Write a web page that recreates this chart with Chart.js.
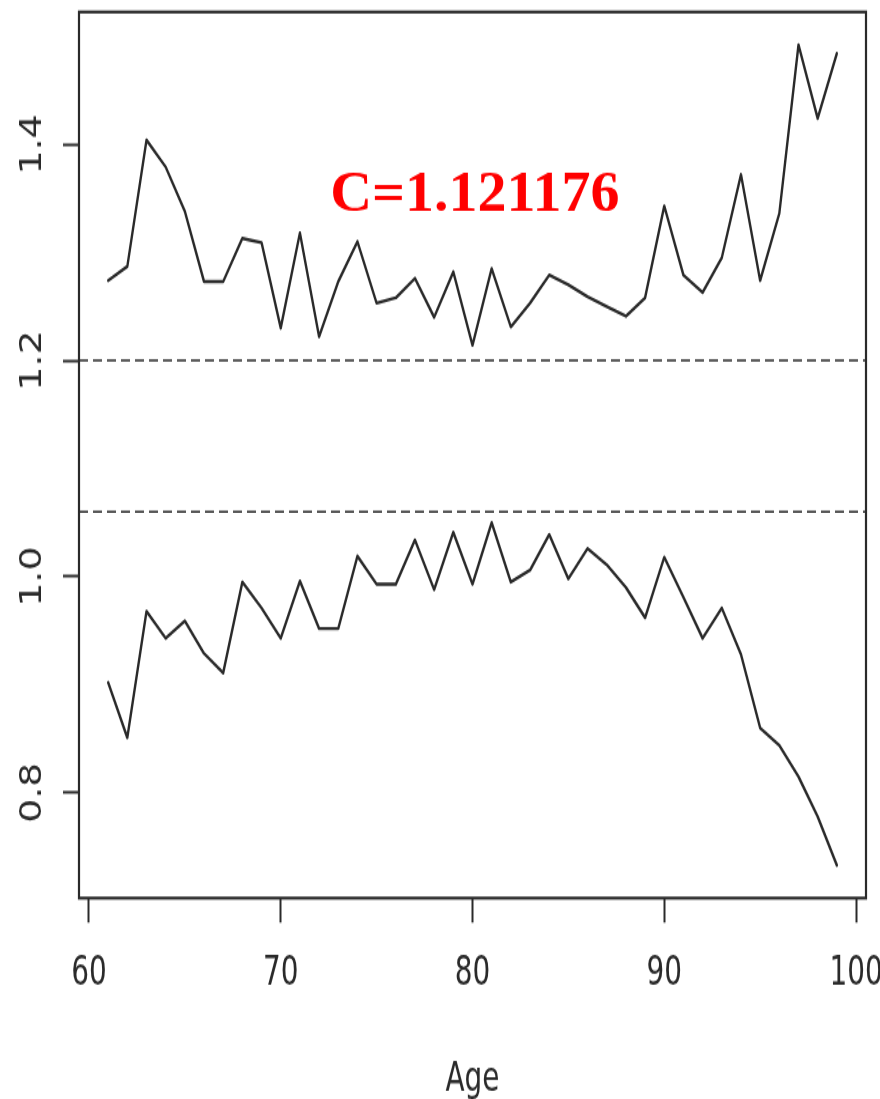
<!DOCTYPE html>
<html>
<head>
<meta charset="utf-8">
<script src="https://cdn.jsdelivr.net/npm/chart.js@4/dist/chart.umd.min.js"></script>
<style>
  html, body { margin: 0; padding: 0; background: #ffffff; }
  #page { width: 880px; height: 1099px; position: relative; }
  #wrap { position: absolute; left: 0; top: 0; width: 880px; height: 808px; transform: scaleY(1.3601); transform-origin: 0 0; }
  #plot { display: block; width: 880px; height: 808px; }
</style>
</head>
<body>
<div id="page"><div id="wrap"><canvas id="plot" width="880" height="808"></canvas></div></div>
<script>
// Ages on the horizontal axis
const ages = [61, 62, 63, 64, 65, 66, 67, 68, 69, 70,
              71, 72, 73, 74, 75, 76, 77, 78, 79, 80,
              81, 82, 83, 84, 85, 86, 87, 88, 89, 90,
              91, 92, 93, 94, 95, 96, 97, 98, 99];

// Upper curve
const upperValues = [1.274, 1.287, 1.404, 1.379, 1.338, 1.273, 1.273, 1.313, 1.309, 1.230,
                     1.318, 1.222, 1.273, 1.310, 1.253, 1.258, 1.276, 1.240, 1.282, 1.214,
                     1.285, 1.231, 1.253, 1.279, 1.270, 1.259, 1.250, 1.241, 1.258, 1.343,
                     1.279, 1.263, 1.295, 1.372, 1.274, 1.336, 1.492, 1.424, 1.484];

// Lower curve
const lowerValues = [0.902, 0.851, 0.968, 0.943, 0.959, 0.929, 0.911, 0.995, 0.971, 0.943,
                     0.996, 0.952, 0.952, 1.019, 0.993, 0.993, 1.034, 0.988, 1.041, 0.993,
                     1.050, 0.995, 1.006, 1.039, 0.998, 1.026, 1.011, 0.990, 0.962, 1.018,
                     0.981, 0.943, 0.971, 0.928, 0.860, 0.844, 0.815, 0.778, 0.733];

// Horizontal dashed reference levels
const refLevels = [1.2, 1.06];

// Axis ticks
const xTicks = [60, 70, 80, 90, 100];
const yTicks = [0.8, 1.0, 1.2, 1.4];

// Axis ranges
const xRange = [59.48, 100.52];
const yRange = [0.7026, 1.5224];

const annotationText = 'C=1.121176';

const STRETCH = 1.3601;
const INK = '#2a2a2a';
const LABEL_FONT = "'Liberation Sans Narrow', 'Arial Narrow', 'DejaVu Sans Condensed', 'Liberation Sans', sans-serif";

const curveStyle = {
  borderColor: INK,
  borderWidth: 2.4,
  pointRadius: 0,
  tension: 0,
  fill: false,
  borderJoinStyle: 'round',
  borderCapStyle: 'round'
};

const datasets = [
  Object.assign({ label: 'upper', data: ages.map((a, i) => ({ x: a, y: upperValues[i] })) }, curveStyle),
  Object.assign({ label: 'lower', data: ages.map((a, i) => ({ x: a, y: lowerValues[i] })) }, curveStyle)
];
refLevels.forEach(level => {
  datasets.push({
    label: 'ref ' + level,
    data: [{ x: xRange[0], y: level }, { x: xRange[1], y: level }],
    borderColor: INK,
    borderWidth: 1.7,
    borderDash: [9, 5],
    pointRadius: 0,
    fill: false
  });
});

// Box around the plotting region
const framePlugin = {
  id: 'frame',
  afterDatasetsDraw(chart) {
    const a = chart.chartArea;
    const ctx = chart.ctx;
    ctx.save();
    ctx.strokeStyle = INK;
    ctx.lineWidth = 2.2;
    ctx.strokeRect(a.left, a.top, a.right - a.left, a.bottom - a.top);
    ctx.restore();
  }
};

// Red constant label inside the plot, positioned in data units
const constantLabel = {
  id: 'constantLabel',
  afterDraw(chart) {
    const ctx = chart.ctx;
    const px = chart.scales.x.getPixelForValue(80.12);
    const py = chart.scales.y.getPixelForValue(1.338);
    ctx.save();
    ctx.scale(1, 1 / STRETCH);
    ctx.font = "bold 58px 'Liberation Serif', 'Times New Roman', serif";
    ctx.fillStyle = '#ff0000';
    ctx.textAlign = 'center';
    ctx.textBaseline = 'alphabetic';
    ctx.fillText(annotationText, px, py * STRETCH);
    ctx.restore();
  }
};

new Chart(document.getElementById('plot'), {
  type: 'line',
  data: { datasets },
  options: {
    responsive: false,
    animation: false,
    devicePixelRatio: 1,
    layout: { padding: { top: 8.8, right: 14, left: 0, bottom: 0 } },
    plugins: {
      legend: { display: false },
      tooltip: { enabled: false },
      title: { display: false }
    },
    scales: {
      x: {
        type: 'linear',
        position: 'bottom',
        min: xRange[0],
        max: xRange[1],
        afterBuildTicks: s => { s.ticks = xTicks.map(v => ({ value: v })); },
        afterFit: s => { s.height = 147.7; s.paddingLeft = 0; s.paddingRight = 0; },
        grid: { drawOnChartArea: false, drawTicks: true, tickLength: 18, tickWidth: 2, tickColor: INK },
        border: { display: false },
        ticks: {
          padding: 19,
          color: '#2a2a2a',
          maxRotation: 0,
          autoSkip: false,
          font: { family: LABEL_FONT, size: 31 },
          callback: v => String(v)
        },
        title: {
          display: true,
          text: 'Age',
          color: '#2a2a2a',
          padding: { top: 0, bottom: 0 },
          font: { family: LABEL_FONT, size: 31, lineHeight: 0.9 }
        }
      },
      y: {
        type: 'linear',
        position: 'left',
        min: yRange[0],
        max: yRange[1],
        afterBuildTicks: s => { s.ticks = yTicks.map(v => ({ value: v })); },
        afterFit: s => { s.width = 79; s.paddingTop = 0; s.paddingBottom = 0; },
        grid: { drawOnChartArea: false, drawTicks: true, tickLength: 16, tickWidth: 2, tickColor: INK },
        border: { display: false },
        ticks: {
          padding: 8,
          minRotation: 90,
          maxRotation: 90,
          crossAlign: 'center',
          color: '#2a2a2a',
          autoSkip: false,
          font: { family: LABEL_FONT, size: 31 },
          callback: v => Number(v).toFixed(1)
        }
      }
    }
  },
  plugins: [framePlugin, constantLabel]
});
</script>
</body>
</html>
